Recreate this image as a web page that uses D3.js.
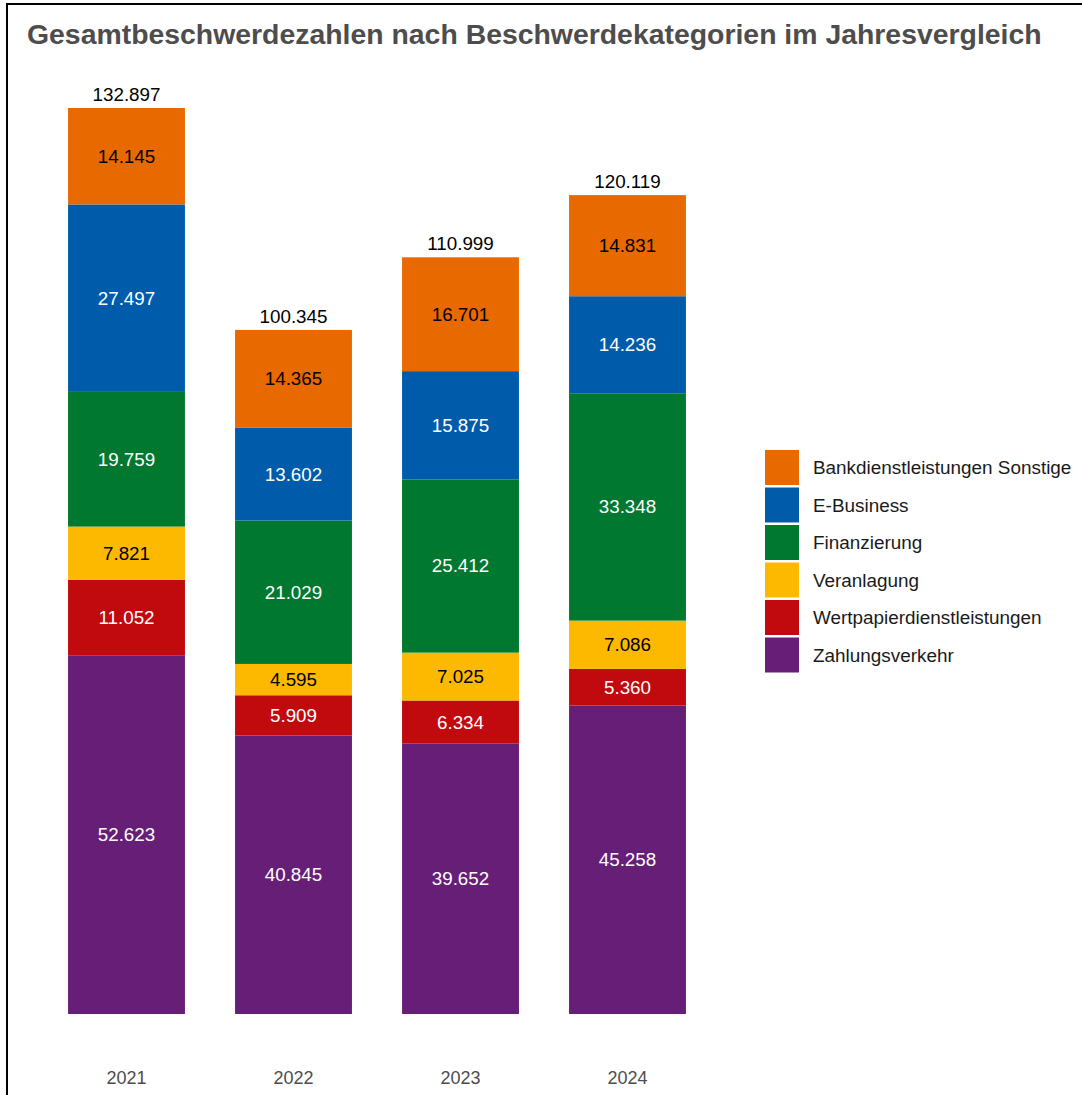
<!DOCTYPE html>
<html>
<head>
<meta charset="utf-8">
<script src="https://cdn.jsdelivr.net/npm/d3@7"></script>
<style>
  html, body { margin: 0; padding: 0; background: #fff; }
  svg { display: block; font-family: "Liberation Sans", Arial, Helvetica, sans-serif; }
</style>
</head>
<body>
<svg id="chart" width="1082" height="1095"></svg>
<script>
// Complaint counts per year, by category (stacked bottom to top)
const years = ["2021", "2022", "2023", "2024"];
const categories = [
  "Zahlungsverkehr",
  "Wertpapierdienstleistungen",
  "Veranlagung",
  "Finanzierung",
  "E-Business",
  "Bankdienstleistungen Sonstige"
];
const zahlungsverkehr = [52623, 40845, 39652, 45258];
const wertpapierdienstleistungen = [11052, 5909, 6334, 5360];
const veranlagung = [7821, 4595, 7025, 7086];
const finanzierung = [19759, 21029, 25412, 33348];
const eBusiness = [27497, 13602, 15875, 14236];
const bankSonstige = [14145, 14365, 16701, 14831];
const colors = ["#661E77", "#C00A0D", "#FDB800", "#00782F", "#005CAA", "#E86900"];
const labelColors = ["#ffffff", "#ffffff", "#000000", "#ffffff", "#ffffff", "#000000"];
const legendOrder = [
  "Bankdienstleistungen Sonstige",
  "E-Business",
  "Finanzierung",
  "Veranlagung",
  "Wertpapierdienstleistungen",
  "Zahlungsverkehr"
];

const seriesValues = [zahlungsverkehr, wertpapierdienstleistungen, veranlagung, finanzierung, eBusiness, bankSonstige];
const rows = years.map((y, i) => {
  const r = { year: y };
  categories.forEach((c, k) => { r[c] = seriesValues[k][i]; });
  return r;
});

const fmt = d3.formatLocale({ decimal: ",", thousands: ".", grouping: [3], currency: ["", " €"] }).format(",");

const svg = d3.select("#chart");

// Outer frame (left and top edges)
svg.append("path")
  .attr("d", "M7,1095 V4 H1082")
  .attr("fill", "none")
  .attr("stroke", "#000")
  .attr("stroke-width", 2);

// Title
svg.append("text")
  .attr("x", 27)
  .attr("y", 44)
  .attr("font-size", 28.4)
  .attr("font-weight", "bold")
  .attr("fill", "#4d4d4d")
  .text("Gesamtbeschwerdezahlen nach Beschwerdekategorien im Jahresvergleich");

const x = d3.scaleBand()
  .domain(years)
  .range([43, 711])
  .paddingInner(0.3)
  .paddingOuter(0.15);

const totals = rows.map(r => d3.sum(categories, c => r[c]));
const y = d3.scaleLinear()
  .domain([0, d3.max(totals)])
  .range([1014, 108]);

const stack = d3.stack().keys(categories);
const stacked = stack(rows);
const color = d3.scaleOrdinal().domain(categories).range(colors);
const labelColor = d3.scaleOrdinal().domain(categories).range(labelColors);

const layers = svg.append("g")
  .selectAll("g")
  .data(stacked)
  .join("g")
  .attr("fill", d => color(d.key));

layers.selectAll("rect")
  .data(d => d)
  .join("rect")
  .attr("x", d => x(d.data.year))
  .attr("width", x.bandwidth())
  .attr("y", d => y(d[1]))
  .attr("height", d => y(d[0]) - y(d[1]));

// Segment value labels
const labelLayers = svg.append("g")
  .selectAll("g")
  .data(stacked)
  .join("g")
  .attr("fill", d => labelColor(d.key));

labelLayers.selectAll("text")
  .data(d => d)
  .join("text")
  .attr("x", d => x(d.data.year) + x.bandwidth() / 2)
  .attr("y", d => (y(d[0]) + y(d[1])) / 2)
  .attr("text-anchor", "middle")
  .attr("dominant-baseline", "central")
  .attr("font-size", 18.8)
  .text(d => fmt(d[1] - d[0]));

// Totals above each bar
svg.append("g")
  .selectAll("text")
  .data(rows)
  .join("text")
  .attr("x", d => x(d.year) + x.bandwidth() / 2)
  .attr("y", (d, i) => y(totals[i]) - 7)
  .attr("text-anchor", "middle")
  .attr("font-size", 18.8)
  .attr("fill", "#000")
  .text((d, i) => fmt(totals[i]));

// Year axis labels
const xAxis = d3.axisBottom(x).tickSize(0).tickPadding(0);
const axisG = svg.append("g")
  .attr("transform", "translate(0,1070)")
  .call(xAxis);
axisG.select(".domain").remove();
axisG.selectAll("text")
  .attr("font-family", "Liberation Sans, Arial, sans-serif")
  .attr("font-size", 18)
  .attr("fill", "#4d4d4d")
  .attr("dy", "0.35em")
  .attr("y", 8);

// Legend
const legend = svg.append("g").attr("transform", "translate(765,450)");
const item = legend.selectAll("g")
  .data(legendOrder)
  .join("g")
  .attr("transform", (d, i) => `translate(0,${i * 37.5})`);
item.append("rect")
  .attr("width", 34)
  .attr("height", 35)
  .attr("fill", d => color(d));
item.append("text")
  .attr("x", 48)
  .attr("y", 17.5)
  .attr("dominant-baseline", "central")
  .attr("font-size", 18.9)
  .attr("fill", "#1a1a1a")
  .text(d => d);
</script>
</body>
</html>
